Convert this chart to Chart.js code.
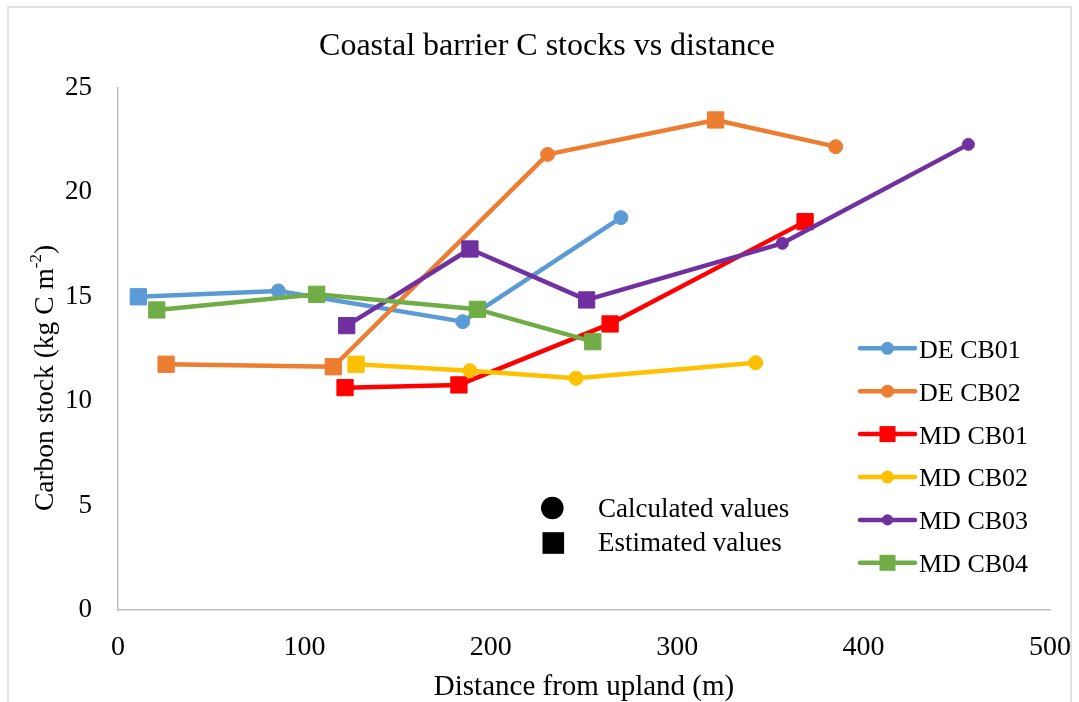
<!DOCTYPE html>
<html>
<head>
<meta charset="utf-8">
<title>Coastal barrier C stocks vs distance</title>
<script src="https://cdn.jsdelivr.net/npm/chart.js@4/dist/chart.umd.min.js"></script>
<style>
  html, body { margin: 0; padding: 0; background: #fff; }
  #wrap { position: relative; width: 1079px; height: 702px; }
</style>
</head>
<body>
<div id="wrap"><canvas id="chart"></canvas></div>
<script>
// datos (x = distancia en m, y = kg C m-2)
// kind: 'calc' = valor calculado (circulo), 'est' = valor estimado (cuadrado)
const deCb01X = [10.9, 86.0, 184.9, 269.8];
const deCb01Y = [15.0, 15.28, 13.81, 18.79];
const deCb01Kind = ['est', 'calc', 'calc', 'calc'];

const deCb02X = [25.8, 115.5, 230.5, 320.6, 385.0];
const deCb02Y = [11.77, 11.65, 21.82, 23.47, 22.19];
const deCb02Kind = ['est', 'est', 'calc', 'est', 'calc'];

const mdCb01X = [121.8, 182.9, 264.0, 368.6];
const mdCb01Y = [10.65, 10.78, 13.7, 18.6];
const mdCb01Kind = ['est', 'est', 'est', 'est'];

const mdCb02X = [127.7, 188.8, 245.7, 342.1];
const mdCb02Y = [11.77, 11.46, 11.1, 11.84];
const mdCb02Kind = ['est', 'calc', 'calc', 'calc'];

const mdCb03X = [122.7, 188.8, 251.4, 356.4, 456.2];
const mdCb03Y = [13.62, 17.29, 14.85, 17.56, 22.3];
const mdCb03Kind = ['est', 'est', 'est', 'calc', 'calc'];

const mdCb04X = [20.8, 106.6, 192.8, 254.7];
const mdCb04Y = [14.37, 15.12, 14.4, 12.85];
const mdCb04Kind = ['est', 'est', 'est', 'est'];

const seriesNames = ['DE CB01', 'DE CB02', 'MD CB01', 'MD CB02', 'MD CB03', 'MD CB04'];
const xTicks = [0, 100, 200, 300, 400, 500];
const yTicks = [0, 5, 10, 15, 20, 25];
const markerNames = ['Calculated values', 'Estimated values'];

const FONT = '"Liberation Serif", "Times New Roman", serif';

function toPoints(xs, ys) {
    return xs.map(function (x, i) { return { x: x, y: ys[i] }; });
}

// colores, tamaño de circulo y forma en la leyenda
const styles = [
    { color: '#5B9BD5', r: 7, legend: 'circle' },
    { color: '#ED7D31', r: 7, legend: 'circle' },
    { color: '#FF0000', r: 7, legend: 'rect' },
    { color: '#FFC000', r: 7, legend: 'circle' },
    { color: '#7030A0', r: 6, legend: 'circle' },
    { color: '#70AD47', r: 7, legend: 'rect' }
];

const allX = [deCb01X, deCb02X, mdCb01X, mdCb02X, mdCb03X, mdCb04X];
const allY = [deCb01Y, deCb02Y, mdCb01Y, mdCb02Y, mdCb03Y, mdCb04Y];
const allKind = [deCb01Kind, deCb02Kind, mdCb01Kind, mdCb02Kind, mdCb03Kind, mdCb04Kind];

const datasets = seriesNames.map(function (name, i) {
    const st = styles[i];
    const kinds = allKind[i];
    return {
        label: name,
        data: toPoints(allX[i], allY[i]),
        borderColor: st.color,
        backgroundColor: st.color,
        borderWidth: 4.5,
        tension: 0,
        borderCapStyle: 'round',
        borderJoinStyle: 'round',
        pointBackgroundColor: st.color,
        pointBorderColor: st.color,
        pointBorderWidth: 1,
        pointStyle: function (c) { return kinds[c.dataIndex] === 'est' ? 'rect' : 'circle'; },
        pointRadius: function (c) { return kinds[c.dataIndex] === 'est' ? 11.5 : st.r; },
        order: seriesNames.length - i // las ultimas series quedan encima
    };
});

// fondo, marco gris y titulo
const framePlugin = {
    id: 'frame',
    beforeDraw: function (chart) {
        const c = chart.ctx;
        c.save();
        c.fillStyle = '#fff';
        c.fillRect(0, 0, chart.width, chart.height);
        c.strokeStyle = '#d9d9d9';
        c.lineWidth = 1.5;
        c.strokeRect(8, 7, 1063, 705);
        c.fillStyle = '#000';
        c.font = '32px ' + FONT;
        c.textAlign = 'center';
        c.textBaseline = 'middle';
        c.fillText('Coastal barrier C stocks vs distance', 547, 47);
        c.restore();
    }
};

// leyenda, nota de simbolos y titulo del eje y (con superindice)
const extrasPlugin = {
    id: 'extras',
    afterDraw: function (chart) {
        const c = chart.ctx;
        c.save();

        // leyenda
        c.font = '26px ' + FONT;
        c.textBaseline = 'alphabetic';
        c.textAlign = 'left';
        chart.data.datasets.forEach(function (ds, i) {
            const st = styles[i];
            const y = 348.3 + i * 42.9;
            c.strokeStyle = st.color;
            c.lineWidth = 4.5;
            c.lineCap = 'round';
            c.beginPath();
            c.moveTo(860, y);
            c.lineTo(915, y);
            c.stroke();
            c.fillStyle = st.color;
            if (st.legend === 'rect') {
                c.fillRect(887.5 - 8, y - 8, 16, 16);
            } else {
                c.beginPath();
                c.arc(887.5, y, i === 4 ? 5.6 : 6.5, 0, Math.PI * 2);
                c.fill();
            }
            c.fillStyle = '#000';
            c.fillText(ds.label, 919, y + 9.4);
        });

        // nota: calculados / estimados
        c.fillStyle = '#000';
        c.beginPath();
        c.arc(552.3, 508, 11.3, 0, Math.PI * 2);
        c.fill();
        c.fillRect(553.3 - 10.8, 543 - 10.8, 21.6, 21.6);
        c.font = '27px ' + FONT;
        c.fillText(markerNames[0], 598, 517);
        c.fillText(markerNames[1], 598, 551);

        // titulo eje y
        c.translate(46, 378);
        c.rotate(-Math.PI / 2);
        const big = '27.5px ' + FONT;
        const small = '17px ' + FONT;
        const p1 = 'Carbon stock (kg C m';
        const p2 = '-2';
        const p3 = ')';
        c.font = big;
        const w1 = c.measureText(p1).width;
        const w3 = c.measureText(p3).width;
        c.font = small;
        const w2 = c.measureText(p2).width;
        let x = -(w1 + w2 + w3) / 2;
        c.textBaseline = 'middle';
        c.font = big;
        c.fillText(p1, x, 0);
        x += w1;
        c.font = small;
        c.fillText(p2, x, -9);
        x += w2;
        c.font = big;
        c.fillText(p3, x, 0);

        c.restore();
    }
};

new Chart(document.getElementById('chart'), {
    type: 'line',
    data: { datasets: datasets },
    plugins: [framePlugin, extrasPlugin],
    options: {
        responsive: true,
        maintainAspectRatio: false,
        animation: false,
        events: [],
        layout: { padding: { left: 0, right: 29, top: 88, bottom: 0 } },
        plugins: {
            legend: { display: false },
            tooltip: { enabled: false },
            title: { display: false }
        },
        scales: {
            x: {
                type: 'linear',
                min: 0,
                max: 500,
                afterBuildTicks: function (axis) {
                    axis.ticks = xTicks.map(function (v) { return { value: v }; });
                },
                afterFit: function (axis) {
                    axis.height = 92;
                    axis.paddingLeft = 0;
                    axis.paddingRight = 0;
                },
                grid: { display: false, drawTicks: false },
                border: { display: true, color: '#bfbfbf', width: 1.5 },
                ticks: { color: '#000', padding: 21, maxRotation: 0, font: { family: FONT, size: 28 } },
                title: {
                    display: true,
                    text: 'Distance from upland (m)',
                    color: '#000',
                    font: { family: FONT, size: 29, lineHeight: 1 },
                    padding: { top: 0, bottom: 0 }
                }
            },
            y: {
                type: 'linear',
                min: 0,
                max: 25,
                afterBuildTicks: function (axis) {
                    axis.ticks = yTicks.map(function (v) { return { value: v }; });
                },
                afterFit: function (axis) { axis.width = 118; },
                grid: { display: false, drawTicks: false },
                border: { display: true, color: '#bfbfbf', width: 1.5 },
                ticks: { color: '#000', padding: 26, font: { family: FONT, size: 27 } }
            }
        }
    }
});
</script>
</body>
</html>
